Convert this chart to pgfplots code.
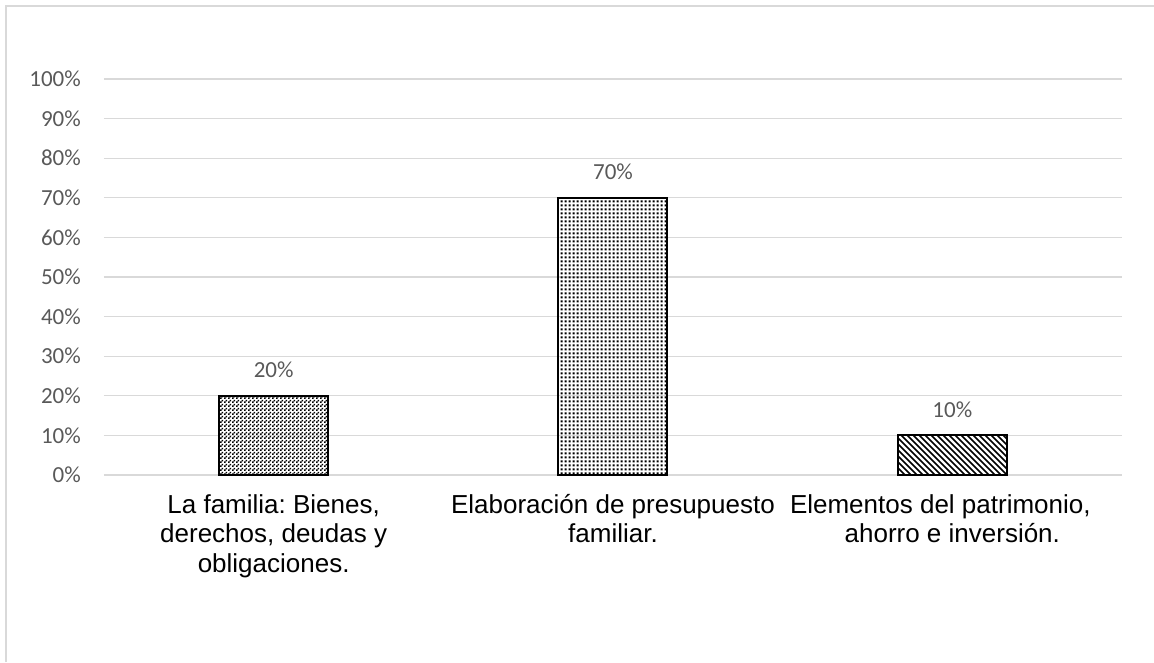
\documentclass[border=0pt]{standalone}
\usepackage{pgfplots}
\pgfplotsset{compat=1.18}
\usepackage{fontspec}
\setmainfont{Liberation Sans}
\newfontfamily\calfont{Carlito}
\usetikzlibrary{patterns}
\definecolor{gridc}{HTML}{D9D9D9}
\definecolor{tickc}{HTML}{595959}
\frenchspacing

\pgfdeclarepatternformonly{checker}{\pgfqpoint{0pt}{0pt}}{\pgfqpoint{4pt}{4pt}}{\pgfqpoint{4pt}{4pt}}{%
  \pgfpathrectangle{\pgfqpoint{0pt}{0pt}}{\pgfqpoint{2pt}{2pt}}%
  \pgfpathrectangle{\pgfqpoint{2pt}{2pt}}{\pgfqpoint{2pt}{2pt}}%
  \pgfusepath{fill}}
\pgfdeclarepatternformonly{dotgrid}{\pgfqpoint{0pt}{0pt}}{\pgfqpoint{4pt}{4pt}}{\pgfqpoint{4pt}{4pt}}{%
  \pgfpathrectangle{\pgfqpoint{0.8pt}{0.8pt}}{\pgfqpoint{2.4pt}{2.4pt}}%
  \pgfusepath{fill}}
\pgfdeclarepatternformonly{nwlines}{\pgfqpoint{-1pt}{-1pt}}{\pgfqpoint{7pt}{7pt}}{\pgfqpoint{6pt}{6pt}}{%
  \pgfsetlinewidth{1.6pt}%
  \pgfpathmoveto{\pgfqpoint{-0.1pt}{6.1pt}}%
  \pgfpathlineto{\pgfqpoint{6.1pt}{-0.1pt}}%
  \pgfusepath{stroke}}

\begin{document}
\begin{tikzpicture}
\useasboundingbox (0,0) rectangle (1154pt,662pt);
\draw[gridc, line width=2pt] (6pt,0pt) -- (6pt,656pt) -- (1154pt,656pt);
\begin{axis}[
  at={(104pt,187pt)}, anchor=south west,
  scale only axis, width=1018pt, height=396pt,
  xmin=-0.5, xmax=2.5, ymin=0, ymax=100,
  axis line style={draw=none},
  major tick length=0pt,
  ytick={0,10,...,100},
  ymajorgrids, grid style={gridc, line width=1.3pt},
  /pgf/number format/assume math mode=true,
  yticklabel={\pgfmathprintnumber{\tick}\%},
  yticklabel style={font=\calfont\fontsize{23}{27}\selectfont, text=tickc, inner sep=0pt, anchor=east, xshift=-23pt},
  xtick={0,1,2},
  xticklabels={{La familia: Bienes,\\derechos, deudas y\\obligaciones.},{Elaboración de presupuesto\\familiar.},{\hspace*{-24pt}Elementos del patrimonio,\\ahorro e inversión.}},
  xticklabel style={font=\fontsize{26}{29.5}\selectfont, align=center, inner sep=0pt, anchor=north, yshift=-19pt},
  bar width=109pt,
  nodes near coords={\pgfmathprintnumber{\pgfplotspointmeta}\%},
  every node near coord/.append style={font=\calfont\fontsize{23}{27}\selectfont, text=tickc, inner sep=0pt, anchor=south, yshift=17pt},
]
\addplot[ybar, bar shift=0pt, draw=black, line width=2pt, pattern=checker] coordinates {(0,20)};
\addplot[ybar, bar shift=0pt, draw=black, line width=2pt, pattern=dotgrid] coordinates {(1,70)};
\addplot[ybar, bar shift=0pt, draw=black, line width=2pt, pattern=nwlines] coordinates {(2,10)};
\end{axis}
\end{tikzpicture}
\end{document}
